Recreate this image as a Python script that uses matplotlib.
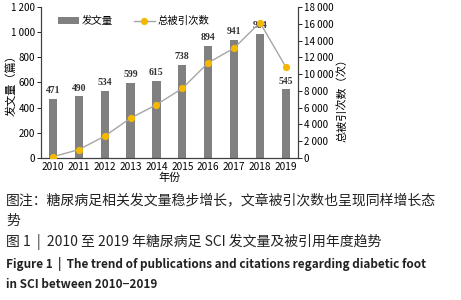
import matplotlib
matplotlib.use("Agg")
import matplotlib.pyplot as plt
from matplotlib.ticker import FuncFormatter, MultipleLocator

plt.rcParams['font.family'] = ['Noto Sans CJK SC', 'DejaVu Sans']

years = ["2010", "2011", "2012", "2013", "2014", "2015", "2016", "2017", "2018", "2019"]
publications = [471, 490, 534, 599, 615, 738, 894, 941, 984, 545]
citations = [150, 1000, 2600, 4750, 6350, 8300, 11350, 13100, 16150, 10850]

bar_color = "#808080"
line_color = "#a6a6a6"
marker_color = "#f5b800"

W, H = 461, 300
fig = plt.figure(figsize=(W / 100, H / 100), dpi=100)
ax = fig.add_axes([41 / W, 1 - 158 / H, (298 - 41) / W, (158 - 7) / H])
ax2 = ax.twinx()

x = list(range(len(years)))
bars = ax.bar(x, publications, width=0.32, color=bar_color, label="发文量", zorder=2)
for xi, v in zip(x, publications):
    ax.text(xi, v + 30, str(v), ha="center", va="bottom", fontsize=7,
            family=["Liberation Serif"], fontweight="bold", color="#333333")
line, = ax2.plot(x, citations, color=line_color, lw=1, marker="o", ms=4.2,
                 mfc=marker_color, mec=marker_color, label="总被引次数", zorder=3)

ax.set_xlim(-0.46, 9.47)
ax.set_ylim(0, 1200)
ax2.set_ylim(0, 18000)
ax.yaxis.set_major_locator(MultipleLocator(200))
ax2.yaxis.set_major_locator(MultipleLocator(2000))
fmt = FuncFormatter(lambda v, p: f"{int(v):,}".replace(",", " "))
ax.yaxis.set_major_formatter(fmt)
ax2.yaxis.set_major_formatter(fmt)

ax.set_xticks(x)
ax.set_xticklabels(years)
ax.tick_params(axis="x", length=0, labelsize=7.3, pad=3)
ax.tick_params(axis="y", length=3, labelsize=7, pad=1, width=0.6)
ax2.tick_params(axis="y", length=3, labelsize=7, pad=1, width=0.6)

for a in (ax, ax2):
    a.spines["top"].set_visible(False)
    for s in ("left", "right", "bottom"):
        a.spines[s].set_linewidth(0.8)
        a.spines[s].set_color("#404040")

ax.set_xlabel("年份", fontsize=8, labelpad=0)
ax.set_ylabel("发文量（篇）", fontsize=8)
ax.yaxis.set_label_coords(-0.095, 0.5)
ax2.set_ylabel("总被引次数（次）", fontsize=8)
ax2.yaxis.set_label_coords(1.15, 0.4)

ax2.legend([bars, line], ["发文量", "总被引次数"], loc="upper left",
           bbox_to_anchor=(0.03, 1.0), ncol=2, frameon=False, fontsize=7.5,
           handlelength=2.0, handletextpad=0.3, columnspacing=2.0)

fig.text(6 / W, 1 - 200 / H, "图注：糖尿病足相关发文量稳步增长，文章被引次数也呈现同样增长态",
         fontsize=10, va="center", ha="left", color="#222222")
fig.text(6 / W, 1 - 221 / H, "势", fontsize=10, va="center", ha="left", color="#222222")
fig.text(6 / W, 1 - 242 / H, "图 1  |  2010 至 2019 年糖尿病足 SCI 发文量及被引用年度趋势",
         fontsize=10, va="center", ha="left", color="#222222")
fig.text(6 / W, 1 - 264 / H, "Figure 1  |  The trend of publications and citations regarding diabetic foot",
         fontsize=8.5, fontweight="bold", va="center", ha="left", color="#222222")
fig.text(6 / W, 1 - 285 / H, "in SCI between 2010−2019",
         fontsize=8.5, fontweight="bold", va="center", ha="left", color="#222222")

fig.savefig("out.png", dpi=100)
